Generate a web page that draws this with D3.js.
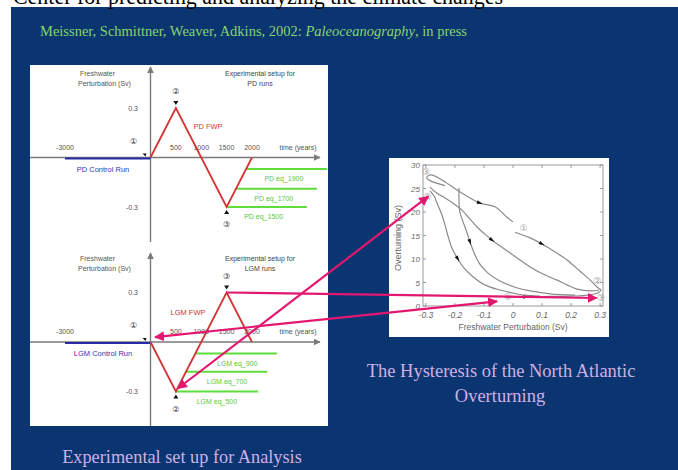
<!DOCTYPE html>
<html><head><meta charset="utf-8">
<script src="https://cdn.jsdelivr.net/npm/d3@7"></script>
<style>body{margin:0;background:#fff}svg{display:block}</style>
</head><body>
<script>
// ---------- DATA ----------
const timeTicks = [500, 1000, 1500, 2000];
const timeTickLabels = ["500", "1000", "1500", "2000"];
const fwTicks = [0.3, -0.3];
const fwTickLabels = ["0.3", "-0.3"];
const controlRun = [[-3000, 0], [0, 0]];
const pdFWP = [[0, 0], [500, 0.3], [1500, -0.3], [2000, 0]];
const lgmFWP = [[0, 0], [500, -0.3], [1500, 0.3], [2000, 0]];
const pdEqStart = [1900, 1700, 1500];
const pdEqEnd = [3480, 3280, 3080];
const pdEqValue = [-0.07, -0.19, -0.3];
const pdEqLabels = ["PD eq_1900", "PD eq_1700", "PD eq_1500"];
const lgmEqStart = [900, 700, 500];
const lgmEqEnd = [2490, 2300, 2120];
const lgmEqValue = [-0.07, -0.18, -0.3];
const lgmEqLabels = ["LGM eq_900", "LGM eq_700", "LGM eq_500"];

const hysXTicks = [-0.3, -0.2, -0.1, 0, 0.1, 0.2, 0.3];
const hysXTickLabels = ["-0.3", "-0.2", "-0.1", "0", "0.1", "0.2", "0.3"];
const hysYTicks = [0, 5, 10, 15, 20, 25, 30];
const hysYTickLabels = ["0", "5", "10", "15", "20", "25", "30"];
// hysteresis curves [freshwater Sv, overturning Sv]
const upperBranchA = [[-0.234,25.6],[-0.29,26.8],[-0.297,27.4],[-0.283,27.9],[-0.234,26.4],[-0.193,24.7],[-0.148,23.0],[-0.114,21.9],[-0.062,21.1],[-0.021,18.9],[0.0,17.9]];
const upperBranchB = [[0.007,15.7],[0.059,14.5],[0.1,13.2],[0.145,11.5],[0.186,9.8],[0.231,7.4],[0.266,5.5],[0.29,4.0],[0.303,3.4],[0.293,2.8],[0.259,2.3],[0.197,2.1],[0.093,2.0],[0.031,1.9],[-0.028,1.9]];
const curveC3 = [[-0.286,25.3],[-0.262,24.0],[-0.234,23.0],[-0.207,21.9],[-0.176,20.4],[-0.148,18.5],[-0.124,16.8],[-0.097,15.3],[-0.072,14.0],[-0.045,12.8],[-0.01,11.3],[0.024,9.8],[0.059,8.3],[0.103,6.8],[0.152,5.5],[0.186,4.5],[0.221,3.6],[0.266,3.2],[0.297,3.4]];
const curveC1 = [[-0.286,24.5],[-0.272,23.4],[-0.259,21.5],[-0.245,19.4],[-0.234,17.2],[-0.224,14.9],[-0.21,12.3],[-0.19,10.0],[-0.169,8.1],[-0.141,6.4],[-0.097,4.5],[-0.045,3.4],[-0.003,2.8],[0.041,2.3],[0.093,2.1]];
const curveC2 = [[-0.186,25.1],[-0.186,22.6],[-0.183,20.0],[-0.172,17.9],[-0.159,15.7],[-0.148,13.6],[-0.134,11.3],[-0.114,8.9],[-0.086,7.0],[-0.045,5.3],[0.007,4.0],[0.059,3.2],[0.128,2.6],[0.214,2.3]];
const hysCurves = [upperBranchA, upperBranchB, curveC3, curveC1, curveC2];
// direction markers: [curve index, point index]
const hysMarkers = [[0,7],[1,2],[2,8],[3,7],[4,5],[1,13]];
// circled labels on hysteresis [x, y, label]
const hysLabelPts = [[-0.3,28.6,"③"],[-0.294,23.2,"②"],[0.036,16.5,"①"],[0.29,5.4,"②"],[0.302,1.7,"③"],[-0.018,1.9,"①"]];

// ---------- SVG ----------
const W = 678, H = 470;
const svg = d3.select("body").append("svg").attr("width", W).attr("height", H);
const defs = svg.append("defs");
function marker(id, color, size) {
  defs.append("marker").attr("id", id).attr("viewBox", "0 0 10 10").attr("refX", 9).attr("refY", 5)
    .attr("markerWidth", size).attr("markerHeight", size).attr("orient", "auto-start-reverse")
    .attr("markerUnits", "userSpaceOnUse")
    .append("path").attr("d", "M0,0 L10,5 L0,10 z").attr("fill", color);
}
marker("axArrow", "#7a7a7a", 7);
marker("magArrow", "#e3176f", 10);

// slide background
svg.append("rect").attr("x", 0).attr("y", 0).attr("width", W).attr("height", H).attr("fill", "#ffffff");
svg.append("rect").attr("x", 11).attr("y", 7).attr("width", W - 11).attr("height", H - 7).attr("fill", "#0b3570");
svg.append("text").attr("x", 13).attr("y", 4).attr("font-family", "Liberation Serif, serif").attr("font-size", 24)
  .attr("textLength", 490).attr("lengthAdjust", "spacingAndGlyphs").attr("fill", "#000")
  .text("Center for predicting and analyzing the climate changes");

const sub = svg.append("text").attr("x", 40).attr("y", 36).attr("font-family", "Liberation Serif, serif")
  .attr("font-size", 14.5).attr("fill", "#86d46e");
sub.append("tspan").text("Meissner, Schmittner, Weaver, Adkins, 2002: ");
sub.append("tspan").attr("font-style", "italic").text("Paleoceanography");
sub.append("tspan").text(", in press");

// left white panel
svg.append("rect").attr("x", 30).attr("y", 65).attr("width", 298).attr("height", 361).attr("fill", "#fff");

const sans = "Liberation Sans, Arial, sans-serif";
const circ = "DejaVu Sans, Noto Sans CJK SC, sans-serif";

function drawSetup(cfg) {
  const g = svg.append("g");
  const x = d3.scaleLinear().domain([-3000, 0, 2000]).range([65, 150.5, 252]);
  const y = d3.scaleLinear().domain([-0.3, 0.3]).range(cfg.yRange);
  const y0 = y(0), x0 = x(0);
  g.append("line").attr("x1", 30).attr("x2", 320).attr("y1", y0).attr("y2", y0)
    .attr("stroke", "#7a7a7a").attr("stroke-width", 1.6).attr("marker-end", "url(#axArrow)");
  g.append("line").attr("x1", x0).attr("x2", x0).attr("y1", cfg.axisBottom).attr("y2", cfg.axisTop)
    .attr("stroke", "#7a7a7a").attr("stroke-width", 1.4).attr("marker-end", "url(#axArrow)");
  const line = d3.line().x(d => x(d[0])).y(d => y(d[1]));
  g.append("path").attr("d", line(controlRun)).attr("transform", "translate(0,1)")
    .attr("stroke", "#2a2aa8").attr("stroke-width", 2).attr("fill", "none");
  g.selectAll(".tt").data(timeTicks).enter().append("text").attr("x", d => x(d)).attr("y", y0 - 8)
    .attr("text-anchor", "middle").attr("font-family", sans).attr("font-size", 7).attr("fill", "#555")
    .text((d, i) => timeTickLabels[i]);
  g.append("text").attr("x", x(-3000)).attr("y", y0 - 8).attr("text-anchor", "middle")
    .attr("font-family", sans).attr("font-size", 7).attr("fill", "#555").text("-3000");
  g.append("text").attr("x", 298).attr("y", y0 - 8).attr("text-anchor", "middle")
    .attr("font-family", sans).attr("font-size", 7).attr("fill", "#555").text("time (years)");
  g.selectAll(".ft").data(fwTicks).enter().append("text").attr("x", 138).attr("y", d => y(d) + 2.5)
    .attr("text-anchor", "end").attr("font-family", sans).attr("font-size", 7).attr("fill", "#555")
    .text((d, i) => fwTickLabels[i]);
  g.append("text").attr("x", 80).attr("y", cfg.titleY).attr("font-family", sans).attr("font-size", 7).attr("fill", "#555").text("Freshwater");
  g.append("text").attr("x", 78).attr("y", cfg.titleY + 10).attr("font-family", sans).attr("font-size", 7).attr("fill", "#555").text("Perturbation (Sv)");
  g.append("text").attr("x", 260).attr("y", cfg.titleY).attr("text-anchor", "middle").attr("font-family", sans).attr("font-size", 7).attr("fill", "#444").text("Experimental setup for");
  g.append("text").attr("x", 260).attr("y", cfg.titleY + 10).attr("text-anchor", "middle").attr("font-family", sans).attr("font-size", 7).attr("fill", "#444").text(cfg.runs);
  cfg.eqStart.forEach((s, i) => {
    g.append("line").attr("x1", x(s)).attr("x2", x(cfg.eqEnd[i])).attr("y1", y(cfg.eqValue[i])).attr("y2", y(cfg.eqValue[i]))
      .attr("stroke", "#5ddc3c").attr("stroke-width", 2);
    g.append("text").attr("x", x(s) + cfg.eqLabelDx).attr("y", y(cfg.eqValue[i]) + 12).attr("text-anchor", "middle")
      .attr("font-family", sans).attr("font-size", 7).attr("fill", "#55c93f").text(cfg.eqLabels[i]);
  });
  g.append("path").attr("d", line(cfg.fwp)).attr("stroke", "#d23434").attr("stroke-width", 1.8).attr("fill", "none");
  g.append("text").attr("x", cfg.fwpLabel[0]).attr("y", cfg.fwpLabel[1]).attr("text-anchor", "middle")
    .attr("font-family", sans).attr("font-size", 7.5).attr("fill", "#d23434").text(cfg.fwpText);
  g.append("text").attr("x", 103).attr("y", y0 + 14).attr("text-anchor", "middle")
    .attr("font-family", sans).attr("font-size", 7.5).attr("fill", "#3535b5").text(cfg.ctrlText);
  const pts = cfg.fwp;
  const p1 = [x(pts[0][0]), y(pts[0][1])], p2 = [x(pts[1][0]), y(pts[1][1])], p3 = [x(pts[2][0]), y(pts[2][1])];
  const num = (px, py, t) => g.append("text").attr("x", px).attr("y", py + 3).attr("text-anchor", "middle")
    .attr("font-family", circ).attr("font-size", 8).attr("fill", "#333").text(t);
  num(p1[0] - 17, p1[1] - 17, "①");
  const s2 = pts[1][1] > 0 ? -1 : 1, s3 = pts[2][1] > 0 ? -1 : 1;
  num(p2[0], p2[1] + s2 * 17, "②");
  num(p3[0], p3[1] + s3 * 17, "③");
  const tri = (px, py, dir) => g.append("path")
    .attr("d", dir < 0 ? `M${px-2.5},${py-3}L${px+2.5},${py-3}L${px},${py+1}Z` : `M${px-2.5},${py+3}L${px+2.5},${py+3}L${px},${py-1}Z`)
    .attr("fill", "#111");
  tri(p2[0], p2[1] + s2 * 4, s2);
  tri(p3[0], p3[1] + s3 * 4, s3);
  g.append("path").attr("d", `M${p1[0]-8},${p1[1]-4}L${p1[0]-4},${p1[1]-4}L${p1[0]-5},${p1[1]-1}Z`).attr("fill", "#111");
  return { x, y };
}

const pd = drawSetup({ yRange: [207, 108], axisTop: 67, axisBottom: 242, titleY: 76, runs: "PD runs",
  eqStart: pdEqStart, eqEnd: pdEqEnd, eqValue: pdEqValue, eqLabels: pdEqLabels, eqLabelDx: 37,
  fwp: pdFWP, fwpText: "PD FWP", fwpLabel: [208, 129], ctrlText: "PD Control Run" });
const lgm = drawSetup({ yRange: [391.5, 292.5], axisTop: 253, axisBottom: 426, titleY: 261, runs: "LGM runs",
  eqStart: lgmEqStart, eqEnd: lgmEqEnd, eqValue: lgmEqValue, eqLabels: lgmEqLabels, eqLabelDx: 41,
  fwp: lgmFWP, fwpText: "LGM FWP", fwpLabel: [188, 315], ctrlText: "LGM Control Run" });

// ---------- hysteresis panel ----------
svg.append("rect").attr("x", 389).attr("y", 158).attr("width", 220).attr("height", 179).attr("fill", "#fff");
const hx = d3.scaleLinear().domain([-0.31, 0.31]).range([423, 603]);
const hy = d3.scaleLinear().domain([0, 30]).range([306, 165]);
const hg = svg.append("g");
hg.append("rect").attr("x", 423).attr("y", 165).attr("width", 180).attr("height", 141)
  .attr("fill", "none").attr("stroke", "#9a9a9a").attr("stroke-width", 1);
hysXTicks.forEach((t, i) => {
  hg.append("line").attr("x1", hx(t)).attr("x2", hx(t)).attr("y1", 306).attr("y2", 303).attr("stroke", "#999");
  hg.append("line").attr("x1", hx(t)).attr("x2", hx(t)).attr("y1", 165).attr("y2", 168).attr("stroke", "#999");
  hg.append("text").attr("x", hx(t)).attr("y", 318).attr("text-anchor", "middle").attr("font-family", sans)
    .attr("font-style", "italic").attr("font-size", 8.5).attr("fill", "#666").text(hysXTickLabels[i]);
});
hysYTicks.forEach((t, i) => {
  hg.append("line").attr("x1", 423).attr("x2", 426).attr("y1", hy(t)).attr("y2", hy(t)).attr("stroke", "#999");
  hg.append("line").attr("x1", 603).attr("x2", 600).attr("y1", hy(t)).attr("y2", hy(t)).attr("stroke", "#999");
  hg.append("text").attr("x", 420).attr("y", hy(t) + 3).attr("text-anchor", "end").attr("font-family", sans)
    .attr("font-style", "italic").attr("font-size", 8).attr("fill", "#666").text(hysYTickLabels[i]);
});
hg.append("text").attr("transform", "translate(401,238) rotate(-90)").attr("text-anchor", "middle")
  .attr("font-family", sans).attr("font-size", 9).attr("fill", "#666").text("Overturning (Sv)");
hg.append("text").attr("x", 513).attr("y", 330).attr("text-anchor", "middle")
  .attr("font-family", sans).attr("font-size", 8.5).attr("fill", "#666").text("Freshwater Perturbation (Sv)");
const hline = d3.line().x(d => hx(d[0])).y(d => hy(d[1])).curve(d3.curveCatmullRom);
hg.selectAll(".hc").data(hysCurves).enter().append("path").attr("d", hline)
  .attr("fill", "none").attr("stroke", "#8a8a8a").attr("stroke-width", 1.2);
hysMarkers.forEach(([ci, pi]) => {
  const c = hysCurves[ci], a = c[pi - 1], b = c[pi + 1] || c[pi], p = c[pi];
  const ang = Math.atan2(hy(b[1]) - hy(a[1]), hx(b[0]) - hx(a[0])) * 180 / Math.PI;
  hg.append("path").attr("d", "M-3,-1.8L3,0L-3,1.8Z").attr("fill", "#111")
    .attr("transform", `translate(${hx(p[0])},${hy(p[1])}) rotate(${ang})`);
});
hg.selectAll(".hl").data(hysLabelPts).enter().append("text").attr("x", d => hx(d[0])).attr("y", d => hy(d[1]) + 3)
  .attr("text-anchor", "middle").attr("font-family", circ).attr("font-size", 9).attr("fill", "#999").text(d => d[2]);

// ---------- magenta links ----------
const links = [
  { from: [lgm.x(500) + 2, lgm.y(-0.3) - 3], to: [hx(-0.292), hy(23.3)], both: true },
  { from: [lgm.x(1500), lgm.y(0.3)], to: [hx(0.288), hy(1.7)], both: false },
  { from: [lgm.x(90), lgm.y(0.03)], to: [hx(-0.055), hy(1.0)], both: true }
];
links.forEach(l => {
  svg.append("line").attr("x1", l.from[0]).attr("y1", l.from[1]).attr("x2", l.to[0]).attr("y2", l.to[1])
    .attr("stroke", "#e3176f").attr("stroke-width", 2.2)
    .attr("marker-end", "url(#magArrow)").attr("marker-start", l.both ? "url(#magArrow)" : null);
});

// ---------- captions ----------
svg.append("text").attr("x", 501).attr("y", 377).attr("text-anchor", "middle").attr("font-family", "Liberation Serif, serif")
  .attr("font-size", 18.5).attr("fill", "#cdb0e6").text("The Hysteresis of the North Atlantic");
svg.append("text").attr("x", 500).attr("y", 402).attr("text-anchor", "middle").attr("font-family", "Liberation Serif, serif")
  .attr("font-size", 18.5).attr("fill", "#cdb0e6").text("Overturning");
svg.append("text").attr("x", 182).attr("y", 463).attr("text-anchor", "middle").attr("font-family", "Liberation Serif, serif")
  .attr("font-size", 18.3).attr("fill", "#cdb0e6").text("Experimental set up for Analysis");
</script>
</body></html>
